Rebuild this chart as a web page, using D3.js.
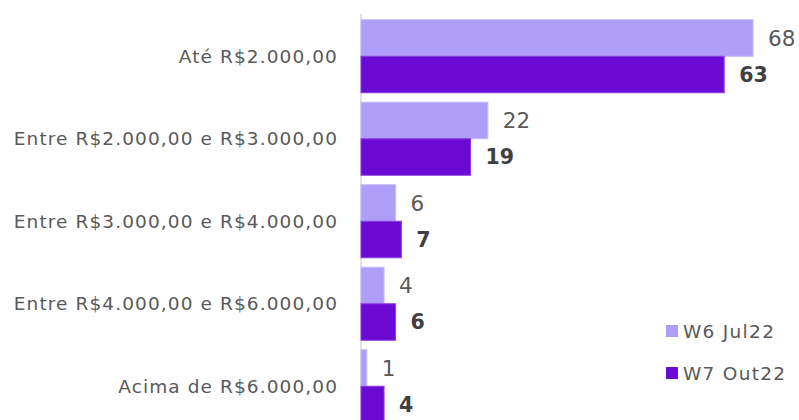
<!DOCTYPE html>
<html>
<head>
<meta charset="utf-8">
<script src="https://cdn.jsdelivr.net/npm/d3@7"></script>
<style>
  body { margin: 0; background: #fff; }
  svg { display: block; font-family: "DejaVu Sans", sans-serif; }
</style>
</head>
<body>
<div id="chart"></div>
<script>
var categories = [
  "Até R$2.000,00",
  "Entre R$2.000,00 e R$3.000,00",
  "Entre R$3.000,00 e R$4.000,00",
  "Entre R$4.000,00 e R$6.000,00",
  "Acima de R$6.000,00"
];
var seriesNames = ["W6 Jul22", "W7 Out22"];
var w6Values = [68, 22, 6, 4, 1];
var w7Values = [63, 19, 7, 6, 4];

var width = 799, height = 420;
var colors = ["#ae9efa", "#6a0ad4"];
var strokes = ["#c4b8fb", "#8a3ee0"];

var svg = d3.select("#chart")
  .append("svg")
    .attr("width", width)
    .attr("height", height);

var y = d3.scaleBand()
    .domain(categories)
    .range([15, 427.5])
    .paddingInner(0.115)
    .paddingOuter(0.0575);

var ySeries = d3.scaleBand()
    .domain(seriesNames)
    .range([0, y.bandwidth()]);

var x = d3.scaleLinear()
    .domain([0, 68])
    .range([361, 753]);

// axis line
svg.append("line")
    .attr("x1", x(0)).attr("x2", x(0))
    .attr("y1", 14).attr("y2", height)
    .attr("stroke", "#d9d9d9")
    .attr("stroke-width", 1.5);

// category labels
svg.append("g")
  .selectAll("text")
  .data(categories)
  .enter()
  .append("text")
    .attr("x", 338)
    .attr("y", function(d) { return y(d) + y.bandwidth() / 2; })
    .attr("dy", "0.36em")
    .attr("text-anchor", "end")
    .style("font-size", "18.5px")
    .style("letter-spacing", "1.1px")
    .style("fill", "#595959")
    .text(function(d) { return d; });

var series = [w6Values, w7Values];

series.forEach(function(vals, s) {
  var g = svg.append("g");
  g.selectAll("rect")
    .data(vals)
    .enter()
    .append("rect")
      .attr("x", x(0))
      .attr("y", function(d, i) { return y(categories[i]) + ySeries(seriesNames[s]); })
      .attr("width", function(d) { return x(d) - x(0); })
      .attr("height", ySeries.bandwidth())
      .style("fill", colors[s])
      .style("stroke", strokes[s])
      .style("stroke-width", 1);

  g.selectAll("text")
    .data(vals)
    .enter()
    .append("text")
      .attr("x", function(d) { return x(d) + 15; })
      .attr("y", function(d, i) { return y(categories[i]) + ySeries(seriesNames[s]) + ySeries.bandwidth() / 2; })
      .attr("dy", "0.36em")
      .style("font-size", s === 1 ? "20.5px" : "21.5px")
      .style("font-weight", s === 1 ? "bold" : "normal")
      .style("fill", s === 1 ? "#3f3f3f" : "#595959")
      .text(function(d) { return d; });
});

// legend
var legend = svg.append("g")
  .selectAll("g")
  .data(seriesNames)
  .enter()
  .append("g")
    .attr("transform", function(d, i) { return "translate(666," + (331 + i * 42) + ")"; });

legend.append("rect")
    .attr("x", 0)
    .attr("y", -6)
    .attr("width", 12)
    .attr("height", 12)
    .style("fill", function(d, i) { return colors[i]; });

legend.append("text")
    .attr("x", 17)
    .attr("dy", "0.36em")
    .style("font-size", "18.5px")
    .style("letter-spacing", "1.3px")
    .style("fill", "#595959")
    .text(function(d) { return d; });
</script>
</body>
</html>
